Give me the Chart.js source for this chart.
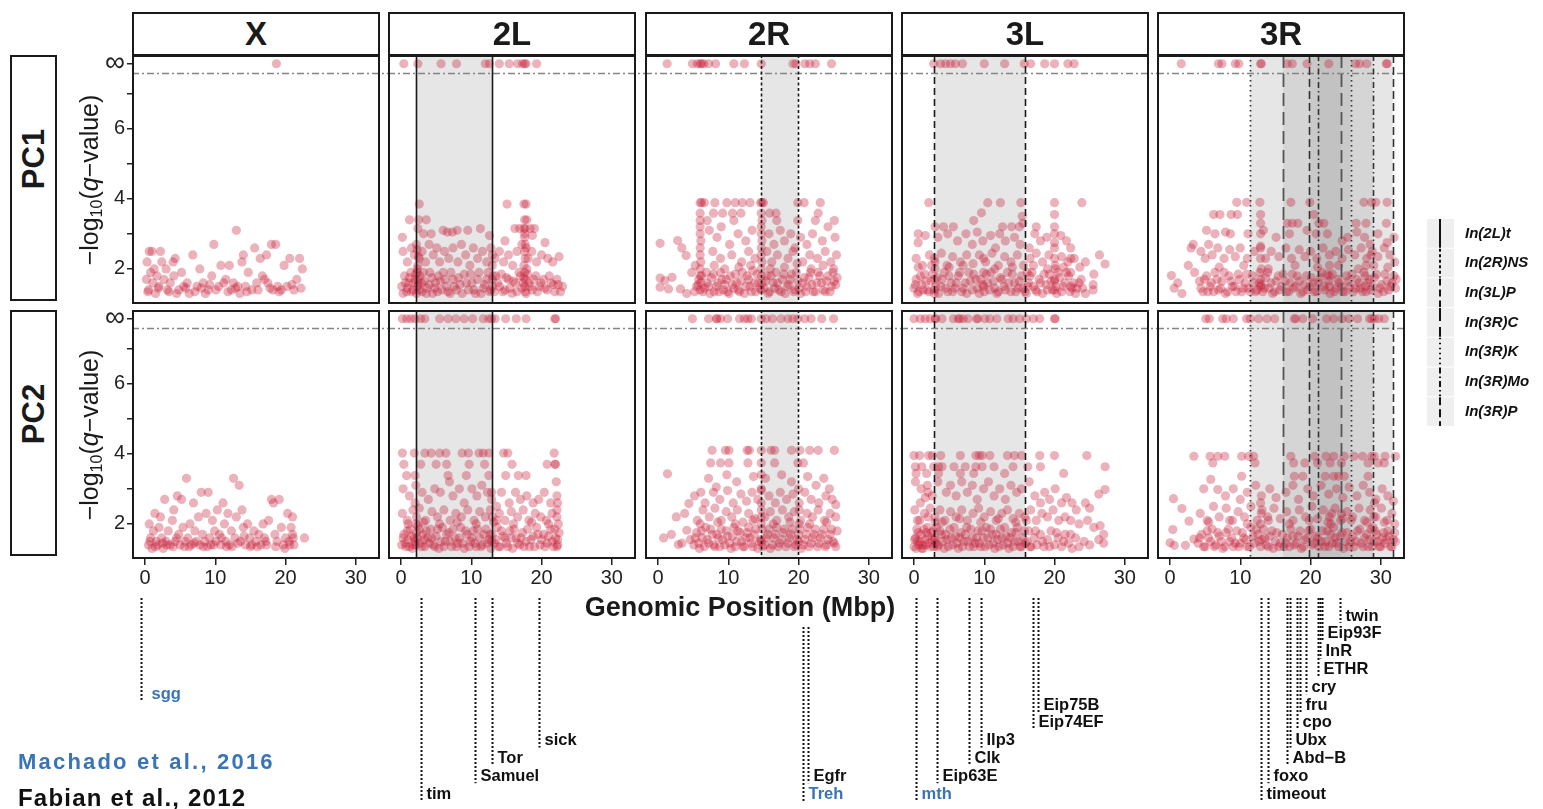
<!DOCTYPE html>
<html><head><meta charset="utf-8">
<script src="https://cdn.jsdelivr.net/npm/chart.js@4.4.1/dist/chart.umd.min.js"></script>
<style>
body{margin:0;background:#fff;width:1543px;height:809px;overflow:hidden;position:relative;font-family:"Liberation Sans",Arial,Helvetica,sans-serif;color:#1a1a1a}
canvas{position:absolute}
.strip{position:absolute;box-sizing:border-box;border:2px solid #1a1a1a;background:#fff;display:flex;align-items:center;justify-content:center;font-weight:bold;font-size:33px}
.rot{position:absolute;transform:translate(-50%,-50%) rotate(-90deg);white-space:nowrap}
.txt{position:absolute;white-space:nowrap}
</style></head><body>
<script>
// ---------------- DATA ----------------
const CHROMS = ['X','2L','2R','3L','3R'];
const ROWS = ['PC1','PC2'];
const X_TICKS = [0,10,20,30];
const Y_TICKS = [2,3,4,5,6,7,7.85];
const Y_TICK_LABELS = ['2','','4','','6','','\u221E'];
const INF = 7.85;          // position of the "infinite" (q = 0) row
const THRESHOLD = 7.58;    // dash-dot significance line

// [position (Mbp), -log10(q)]
const PC1_X = [[0.2,1.7],[0.3,2.2],[0.5,1.4],[0.6,2.5],[0.8,1.9],[1.0,2.5],[1.1,1.6],[1.3,2.0],[1.5,1.3],[1.7,1.8],[2.0,1.5],[2.2,2.5],[2.4,2.2],[2.7,1.7],[3.0,2.0],[3.2,1.4],[3.6,1.6],[4.0,2.2],[4.1,1.8],[4.3,2.3],[4.5,1.3],[4.8,1.4],[5.2,1.9],[5.5,1.5],[6.0,1.6],[6.3,1.3],[6.8,2.4],[7.4,1.5],[7.8,2.0],[8.3,1.6],[8.6,1.3],[9.0,1.4],[9.5,1.8],[9.8,2.7],[10.1,1.4],[10.5,1.5],[10.8,2.1],[11.2,1.6],[11.5,1.7],[12.0,2.1],[12.3,1.4],[12.6,1.6],[13.0,3.1],[13.2,1.5],[13.5,1.3],[13.8,2.2],[14.0,2.4],[14.3,1.5],[14.7,1.9],[15.2,1.4],[15.6,2.6],[15.9,1.6],[16.4,2.3],[16.7,1.8],[17.0,1.7],[17.3,2.4],[17.5,1.6],[18.0,2.7],[18.2,1.4],[18.6,2.7],[18.9,1.5],[19.4,1.4],[19.8,2.1],[20.2,1.5],[20.6,2.3],[21.2,1.4],[21.6,1.7],[22.0,2.3],[22.4,2.0],[18.7,7.85],
[0.4,1.35],[1.9,1.45],[3.4,1.35],[5.8,1.45],[7.1,1.35],[8.0,1.45],[9.2,1.55],[11.8,1.35],[12.9,1.45],[14.5,1.35],[16.1,1.4],[17.8,1.45],[19.1,1.35],[20.9,1.55],[22.2,1.45]];

const PC1_2L = [[0.4,7.85],[2.4,7.85],[5.7,7.85],[7.9,7.85],[12.0,7.85],[12.6,7.85],[14.0,7.85],[15.4,7.85],[16.6,7.85],[17.3,7.85],[17.6,7.85],[17.8,7.85],[19.3,7.85],
[2.6,3.85],[17.5,3.85],[17.8,3.85],[15.1,3.85],[1.2,3.4],[2.5,3.4],[3.6,3.4],[17.6,3.4],[17.9,3.4],[0.2,2.9],[2.4,3.15],[3.2,3.0],[4.3,3.0],[6.0,3.1],[6.6,3.05],[7.3,3.05],[8.0,3.1],[9.5,3.1],[11.3,3.15],[12.6,2.95],[14.8,2.8],[16.2,3.15],[16.9,3.15],[17.7,3.15],[18.4,3.15],[19.0,3.15],[18.7,2.95],[20.5,2.75],
[0.3,2.5],[0.9,2.2],[1.5,2.6],[1.9,2.4],[2.2,2.7],[2.6,2.3],[3.0,2.5],[3.5,2.2],[4.0,2.7],[4.6,2.4],[5.1,2.6],[5.5,2.2],[6.2,2.5],[6.8,2.3],[7.4,2.6],[8.1,2.2],[8.6,2.7],[9.2,2.4],[9.8,2.1],[10.3,2.6],[10.9,2.3],[11.6,2.5],[12.2,2.2],[12.8,2.6],[13.4,2.3],[14.0,2.5],[14.6,2.2],[15.3,2.4],[15.9,2.1],[16.5,2.5],[17.2,2.7],[17.6,2.9],[17.8,2.6],[18.1,2.3],[18.6,2.5],[19.3,2.2],[20.0,2.4],[20.9,2.3],[21.6,2.2],[22.5,2.35],
[0.1,1.5],[0.5,1.8],[0.8,1.35],[1.1,1.6],[1.4,1.9],[1.7,1.4],[2.0,1.7],[2.2,1.3],[2.3,2.0],[2.5,1.55],[2.7,1.8],[3.0,1.35],[3.3,1.65],[3.7,1.45],[4.1,1.9],[4.5,1.3],[4.9,1.6],[5.3,1.8],[5.8,1.4],[6.3,1.7],[6.7,1.35],[7.1,1.9],[7.6,1.5],[8.2,1.75],[8.7,1.3],[9.3,1.6],[9.9,1.85],[10.4,1.4],[10.9,1.7],[11.4,1.3],[11.9,1.55],[12.4,1.9],[12.8,1.4],[13.0,1.7],[13.3,1.35],[13.8,1.6],[14.3,1.85],[14.8,1.4],[15.3,1.7],[15.8,1.3],[16.3,1.6],[16.8,1.9],[17.2,1.45],[17.5,1.75],[17.7,1.35],[17.9,2.0],[18.2,1.6],[18.7,1.4],[19.2,1.8],[19.7,1.5],[20.3,1.7],[20.8,1.4],[21.4,1.6],[21.9,1.35],[22.4,1.55],[23.0,1.5],
[2.3,1.5],[2.4,1.7],[2.3,1.9],[2.4,2.1],[2.5,2.35],[2.3,2.55],[17.6,1.5],[17.7,1.7],[17.6,1.9],[17.5,2.1],[17.7,2.3],[17.6,2.5],[17.7,2.7],[17.6,3.0],[17.5,3.15],[13.0,1.5],[13.1,1.8],[13.0,2.1],[13.0,2.4],
[0.3,1.3],[0.6,1.6],[0.9,1.45],[1.2,1.75],[1.5,1.35],[1.8,1.6],[2.1,1.85],[2.6,1.4],[2.9,1.6],[3.2,1.9],[3.6,1.3],[4.0,1.55],[4.4,1.75],[4.8,1.45],[5.2,1.35],[5.6,1.65],[6.0,1.9],[6.5,1.5],[7.0,1.3],[7.4,1.7],[7.9,1.4],[8.4,1.55],[9.0,1.85],[9.6,1.4],[10.1,1.6],[10.6,1.3],[11.1,1.9],[11.7,1.45],[12.2,1.7],[12.6,1.35],[13.5,1.8],[14.0,1.5],[14.5,1.35],[15.0,1.75],[15.5,1.45],[16.0,1.65],[16.5,1.35],[17.0,1.8],[17.4,1.6],[17.8,1.3],[18.0,1.85],[18.4,1.5],[18.9,1.7],[19.4,1.35],[19.9,1.6],[20.5,1.45],[21.1,1.8],[21.7,1.55],[22.2,1.7],[22.7,1.35]];

const PC1_2R = [[1.3,7.85],[4.9,7.85],[5.6,7.85],[6.0,7.85],[6.2,7.85],[6.5,7.85],[7.2,7.85],[8.2,7.85],[10.8,7.85],[12.3,7.85],[14.7,7.85],[19.2,7.85],[19.6,7.85],[20.9,7.85],[21.6,7.85],[22.4,7.85],[24.7,7.85],
[6.0,3.89],[6.2,3.89],[6.6,3.89],[8.1,3.89],[9.8,3.89],[11.0,3.89],[12.0,3.89],[13.1,3.89],[14.6,3.89],[14.8,3.89],[15.0,3.89],[19.9,3.89],[20.8,3.89],[23.1,3.89],
[6.0,3.59],[7.9,3.59],[9.2,3.59],[10.6,3.59],[11.8,3.59],[14.7,3.59],[15.9,3.59],[16.8,3.59],[22.8,3.59],
[6.0,3.38],[7.0,3.38],[10.8,3.38],[14.8,3.38],[16.9,3.38],[19.9,3.38],[22.4,3.38],[25.1,3.38],
[6.0,3.2],[6.0,3.0],[6.1,2.8],[6.0,2.6],[6.0,2.4],[6.1,2.2],[6.0,2.0],[6.0,1.8],[6.1,1.6],[6.0,1.4],
[14.7,3.2],[14.7,3.0],[14.8,2.8],[14.7,2.6],[14.7,2.4],[14.8,2.2],[14.7,2.0],[14.7,1.8],[14.8,1.6],[14.7,1.4],
[7.3,3.1],[8.4,2.9],[9.0,3.2],[10.2,2.7],[11.4,3.0],[12.5,2.8],[13.4,3.1],[15.8,3.0],[16.5,2.7],[17.4,3.1],[18.0,2.8],[18.9,3.0],[19.5,2.6],[20.3,2.9],[21.2,2.7],[22.0,3.0],[23.4,2.8],[24.2,3.2],[25.2,2.9],[7.8,2.5],[8.9,2.3],[10.5,2.4],[11.9,2.2],[12.9,2.5],[13.8,2.3],[15.5,2.5],[16.2,2.2],[17.0,2.4],[18.5,2.3],[19.2,2.5],[20.6,2.2],[21.6,2.4],[22.7,2.3],[23.8,2.5],[24.6,2.2],[25.4,2.4],
[0.3,2.73],[2.8,2.81],[3.4,2.6],[4.0,2.38],[0.3,1.74],[1.0,1.67],[2.0,1.76],[0.3,1.48],[1.5,1.43],[3.2,1.43],[4.1,1.3],[4.8,1.9],[5.3,2.1],[5.5,1.5],
[5.8,1.7],[6.4,1.35],[6.9,1.9],[7.2,1.5],[7.6,1.75],[8.0,1.35],[8.5,1.6],[8.9,1.9],[9.3,1.4],[9.7,1.7],[10.1,1.3],[10.6,1.55],[11.0,1.85],[11.4,1.4],[11.8,1.65],[12.3,1.3],[12.7,1.8],[13.1,1.5],[13.5,1.95],[13.9,1.35],[14.3,1.6],[15.1,1.45],[15.5,1.8],[15.9,1.35],[16.4,1.6],[16.8,1.9],[17.2,1.4],[17.7,1.7],[18.1,1.3],[18.6,1.55],[19.0,1.85],[19.5,1.4],[19.9,1.65],[20.3,1.3],[20.8,1.75],[21.2,1.5],[21.7,1.9],[22.1,1.35],[22.6,1.6],[23.0,1.8],[23.5,1.4],[24.0,1.65],[24.5,1.35],[24.9,1.9],[25.3,1.55],[25.5,1.75],
[5.2,1.35],[5.7,1.55],[6.2,1.8],[6.6,1.45],[7.0,1.6],[7.4,1.3],[7.9,1.85],[8.3,1.5],[8.7,1.35],[9.1,1.7],[9.5,1.55],[9.9,1.35],[10.3,1.8],[10.8,1.45],[11.2,1.6],[11.6,1.35],[12.0,1.9],[12.5,1.5],[12.9,1.7],[13.3,1.35],[13.7,1.6],[14.1,1.85],[14.5,1.45],[15.3,1.65],[15.7,1.3],[16.1,1.8],[16.6,1.45],[17.0,1.6],[17.5,1.35],[17.9,1.85],[18.4,1.5],[18.8,1.7],[19.3,1.35],[19.7,1.9],[20.1,1.45],[20.6,1.6],[21.0,1.35],[21.5,1.75],[21.9,1.55],[22.4,1.35],[22.8,1.9],[23.3,1.6],[23.8,1.35],[24.2,1.8],[24.7,1.5],[25.1,1.65],[8.0,2.1],[9.5,2.0],[11.5,2.05],[13.2,2.1],[16.0,2.0],[18.0,2.05],[19.8,2.15],[21.8,2.0],[23.5,2.1],[25.0,2.0]];

const PC1_3L = [[2.8,7.85],[3.8,7.85],[4.5,7.85],[5.2,7.85],[5.9,7.85],[6.9,7.85],[10.0,7.85],[12.9,7.85],[15.7,7.85],[16.6,7.85],[18.6,7.85],[20.0,7.85],[21.9,7.85],[22.8,7.85],
[2.1,3.89],[10.5,3.89],[12.3,3.89],[15.2,3.89],[20.0,3.89],[23.9,3.89],[9.6,3.6],[20.0,3.55],[15.4,3.5],[8.5,3.38],[15.5,3.3],
[3.0,3.2],[4.2,3.2],[5.6,3.2],[12.6,3.2],[13.9,3.2],[17.4,3.2],[15.0,3.2],[20.0,3.2],
[0.6,3.0],[0.6,2.75],[1.6,2.95],[3.4,2.9],[4.8,3.0],[6.2,2.8],[7.4,3.0],[8.3,2.7],[9.0,3.05],[9.8,2.8],[10.9,2.95],[11.6,2.6],[12.2,3.0],[13.0,2.8],[14.3,2.9],[15.1,2.7],[16.4,2.6],[17.2,3.0],[18.0,2.8],[18.9,2.9],[20.0,2.75],[20.9,2.95],[21.7,2.8],[22.3,2.6],[26.4,2.4],[27.2,2.14],
[0.3,2.3],[1.2,2.1],[2.2,2.4],[3.0,2.2],[3.9,2.45],[4.7,2.1],[5.5,2.35],[6.6,2.2],[7.5,2.4],[8.4,2.15],[9.3,2.4],[10.2,2.2],[11.1,2.45],[12.0,2.1],[12.9,2.35],[13.8,2.2],[14.7,2.4],[15.6,2.1],[16.5,2.3],[17.4,2.45],[18.3,2.2],[19.2,2.4],[20.1,2.1],[21.0,2.35],[21.9,2.2],[22.8,2.3],[23.6,2.05],[24.4,2.2],
[0.0,1.45],[0.3,1.7],[0.7,1.35],[1.1,1.55],[1.5,1.85],[1.9,1.4],[2.4,1.65],[2.9,1.3],[3.3,1.75],[3.8,1.5],[4.3,1.9],[4.8,1.35],[5.3,1.6],[5.8,1.45],[6.3,1.8],[6.8,1.35],[7.3,1.6],[7.8,1.9],[8.3,1.4],[8.8,1.7],[9.3,1.3],[9.8,1.55],[10.3,1.85],[10.8,1.4],[11.3,1.65],[11.8,1.3],[12.3,1.75],[12.8,1.5],[13.3,1.9],[13.8,1.35],[14.3,1.6],[14.8,1.45],[15.3,1.8],[15.8,1.35],[16.3,1.6],[16.8,1.9],[17.3,1.4],[17.8,1.7],[18.3,1.3],[18.8,1.55],[19.3,1.85],[19.7,1.4],[20.0,1.65],[20.3,1.3],[20.7,1.75],[21.2,1.5],[21.7,1.9],[22.2,1.35],[22.7,1.6],[23.2,1.45],[23.8,1.7],[24.4,1.3],[25.5,1.55],[25.5,1.4],[25.6,1.85],
[2.9,1.4],[2.9,1.7],[3.0,2.0],[2.9,2.3],[20.0,1.4],[20.0,1.7],[20.1,2.0],[20.0,2.3],[20.0,2.6],[20.0,3.0],[16.2,1.5],[16.1,1.9],[9.9,1.5],[9.9,1.9],[9.9,2.3],[22.3,1.5],[22.3,1.9],[22.3,2.3],
[0.2,1.55],[0.5,1.3],[0.9,1.8],[1.3,1.4],[1.7,1.65],[2.1,1.35],[2.6,1.85],[3.1,1.5],[3.5,1.3],[4.0,1.7],[4.5,1.45],[5.0,1.8],[5.5,1.35],[6.0,1.6],[6.5,1.9],[7.0,1.45],[7.5,1.3],[8.0,1.65],[8.5,1.85],[9.0,1.45],[9.5,1.7],[10.0,1.35],[10.5,1.6],[11.0,1.9],[11.5,1.45],[12.0,1.35],[12.5,1.7],[13.0,1.4],[13.5,1.6],[14.0,1.85],[14.5,1.35],[15.0,1.65],[15.5,1.45],[16.0,1.3],[16.5,1.8],[17.0,1.5],[17.5,1.35],[18.0,1.6],[18.5,1.85],[19.0,1.4],[19.5,1.65],[20.2,1.5],[20.5,1.9],[21.0,1.35],[21.5,1.6],[22.0,1.8],[22.5,1.45],[23.0,1.3],[23.5,1.6],[24.0,1.45],[0.6,2.05],[2.5,2.1],[5.0,2.05],[7.0,2.1],[11.5,2.0],[14.0,2.05],[17.0,2.1],[19.0,2.0],[21.3,2.05]];

const PC1_3R = [[1.6,7.85],[6.9,7.85],[7.4,7.85],[9.3,7.85],[9.8,7.85],[12.9,7.85],[13.0,7.85],[16.7,7.85],[17.4,7.85],[19.5,7.85],[22.6,7.85],[26.4,7.85],[27.0,7.85],[28.0,7.85],[30.8,7.85],[30.9,7.85],
[9.5,3.9],[10.9,3.9],[12.8,3.9],[17.2,3.9],[19.9,3.9],[27.6,3.9],[28.7,3.9],[29.3,3.9],[30.9,3.9],
[6.2,3.55],[7.1,3.55],[8.7,3.55],[9.6,3.55],[12.9,3.55],[20.5,3.55],
[12.9,3.3],[16.7,3.3],[17.4,3.3],[18.2,3.3],[21.2,3.3],[21.9,3.3],[26.5,3.3],[27.9,3.3],[30.8,3.3],
[5.2,3.1],[6.4,3.0],[7.9,3.05],[8.6,3.0],[11.1,3.0],[13.3,3.1],[15.1,2.9],[17.0,3.0],[19.5,3.1],[20.8,3.0],[22.4,3.0],[24.5,2.8],[25.3,2.9],[26.6,3.05],[27.7,2.9],[29.6,3.0],[30.9,2.75],[31.9,2.9],[3.3,2.7],[5.5,2.7],
[3.0,2.6],[4.4,2.5],[5.0,2.3],[6.0,2.4],[6.8,2.6],[7.7,2.3],[8.5,2.55],[9.3,2.35],[10.0,2.6],[11.0,2.3],[12.0,2.5],[12.9,2.65],[13.6,2.3],[14.4,2.5],[15.5,2.35],[16.5,2.6],[17.3,2.3],[18.4,2.55],[19.2,2.35],[20.0,2.5],[20.9,2.3],[21.8,2.6],[22.7,2.4],[23.6,2.5],[24.5,2.3],[25.4,2.55],[26.3,2.4],[27.2,2.6],[28.0,2.3],[28.8,2.5],[29.6,2.35],[30.5,2.6],[31.3,2.4],[32.0,2.2],
[0.2,1.81],[1.1,1.6],[1.7,1.3],[0.6,1.45],[2.6,2.1],[3.5,1.9],
[4.4,1.45],[4.9,1.7],[5.4,1.35],[5.9,1.6],[6.4,1.9],[6.9,1.4],[7.4,1.65],[7.9,1.3],[8.4,1.8],[8.9,1.5],[9.4,1.35],[9.9,1.7],[10.4,1.45],[10.9,1.85],[11.4,1.35],[11.9,1.6],[12.4,1.4],[12.8,1.9],[13.0,1.55],[13.2,1.35],[13.6,1.75],[14.1,1.45],[14.6,1.3],[15.1,1.65],[15.6,1.4],[16.1,1.85],[16.6,1.35],[17.1,1.6],[17.6,1.45],[18.1,1.8],[18.6,1.3],[19.1,1.55],[19.6,1.4],[20.1,1.75],[20.6,1.35],[21.1,1.6],[21.6,1.9],[22.1,1.4],[22.6,1.65],[22.8,1.3],[23.1,1.85],[23.6,1.45],[24.1,1.6],[24.6,1.35],[25.1,1.8],[25.6,1.5],[26.1,1.35],[26.6,1.7],[27.1,1.45],[27.6,1.9],[27.9,1.35],[28.1,1.6],[28.6,1.4],[29.1,1.75],[29.6,1.3],[30.1,1.55],[30.6,1.85],[31.1,1.4],[31.6,1.6],[32.1,1.45],[32.2,1.7],
[12.9,1.5],[12.9,1.7],[13.0,2.0],[12.9,2.3],[12.9,2.6],[12.9,3.0],[22.7,1.5],[22.7,1.8],[22.7,2.1],[27.8,1.5],[27.8,1.8],[27.9,2.1],[28.6,2.4],[28.5,2.7],
[4.2,1.65],[4.7,1.35],[5.2,1.8],[5.7,1.5],[6.2,1.35],[6.7,1.7],[7.2,1.45],[7.7,1.9],[8.2,1.35],[8.7,1.65],[9.2,1.5],[9.7,1.85],[10.2,1.35],[10.7,1.6],[11.2,1.45],[11.7,1.8],[12.2,1.35],[12.7,1.6],[13.4,1.45],[13.9,1.9],[14.4,1.6],[14.9,1.35],[15.4,1.8],[15.9,1.5],[16.4,1.65],[16.9,1.35],[17.4,1.85],[17.9,1.5],[18.4,1.65],[18.9,1.35],[19.4,1.8],[19.9,1.5],[20.4,1.6],[20.9,1.35],[21.4,1.75],[21.9,1.5],[22.4,1.85],[23.4,1.35],[23.9,1.7],[24.4,1.5],[24.9,1.35],[25.4,1.65],[25.9,1.85],[26.4,1.45],[26.9,1.6],[27.4,1.35],[28.4,1.7],[28.9,1.5],[29.4,1.85],[29.9,1.45],[30.4,1.35],[30.9,1.65],[31.4,1.5],[31.9,1.8],[7.0,2.05],[10.5,2.1],[14.0,2.0],[17.8,2.1],[21.0,2.05],[24.0,2.1],[26.8,2.0],[29.0,2.1],[31.0,2.05]];

const PC2_X = [[0.5,1.4],[0.6,2.0],[0.8,1.6],[1.0,1.3],[1.2,1.8],[1.4,2.3],[1.6,1.5],[1.8,1.4],[2.0,1.9],[2.2,2.2],[2.4,1.6],[2.6,1.3],[2.8,2.7],[3.0,1.5],[3.3,1.8],[3.6,1.4],[3.9,2.1],[4.1,2.4],[4.3,1.5],[4.6,2.8],[4.8,1.7],[5.0,1.4],[5.2,2.7],[5.4,1.9],[5.7,1.5],[5.9,3.3],[6.1,1.6],[6.4,2.0],[6.6,1.4],[6.9,2.6],[7.1,1.8],[7.3,1.5],[7.6,2.2],[7.8,1.4],[8.0,2.9],[8.2,1.7],[8.5,1.5],[8.7,2.3],[9.0,2.9],[9.2,1.6],[9.4,1.4],[9.6,2.1],[9.9,1.8],[10.1,1.5],[10.3,2.4],[10.6,1.7],[10.8,1.4],[11.1,2.6],[11.3,2.0],[11.5,1.5],[11.8,2.3],[12.0,1.4],[12.3,1.8],[12.6,3.3],[12.8,1.6],[13.0,2.2],[13.4,3.1],[13.6,1.5],[13.8,2.4],[14.0,1.9],[14.3,1.4],[14.6,2.0],[14.9,1.6],[15.2,1.4],[15.5,1.8],[15.8,1.5],[16.2,1.7],[16.5,1.4],[16.8,2.0],[17.0,1.6],[17.3,1.4],[17.6,2.1],[18.0,2.7],[18.3,2.6],[18.5,1.7],[18.8,1.5],[19.1,2.7],[19.4,1.9],[19.7,1.4],[20.0,1.6],[20.3,2.3],[20.5,1.5],[20.8,1.9],[21.0,1.7],[21.2,1.4],[21.0,2.2],[22.7,1.6],[2.5,1.45],[4.0,1.35],[6.3,1.35],[8.9,1.35],[10.9,1.6],[12.4,1.35],[14.1,1.65],[16.0,1.35],[19.9,1.3],
[0.7,1.5],[1.5,1.35],[3.1,1.4],[4.5,1.6],[5.6,1.35],[7.0,1.45],[8.3,1.35],[9.8,1.4],[11.6,1.35],[13.2,1.45],[15.0,1.35],[17.2,1.5],[18.6,1.35],[20.6,1.4],[21.1,1.6]];

const PC2_2L = [[0.2,7.85],[0.8,7.85],[1.4,7.85],[2.0,7.85],[2.8,7.85],[3.4,7.85],[5.5,7.85],[6.7,7.85],[7.8,7.85],[9.0,7.85],[10.2,7.85],[11.7,7.85],[12.5,7.85],[12.9,7.85],[13.4,7.85],[14.9,7.85],[16.4,7.85],[17.8,7.85],[21.9,7.85],[22.0,7.85],
[0.2,4.02],[1.9,4.02],[3.4,4.02],[4.3,4.02],[5.5,4.02],[6.4,4.02],[8.7,4.02],[9.6,4.02],[11.1,4.02],[11.7,4.02],[12.5,4.02],[14.6,4.02],[15.2,4.02],[21.8,4.02],
[0.4,3.7],[2.8,3.7],[5.0,3.7],[6.5,3.7],[9.7,3.7],[11.9,3.7],[15.8,3.7],[20.8,3.7],[21.9,3.7],[22.0,3.7],
[0.8,3.38],[2.0,3.38],[6.7,3.38],[9.3,3.38],[12.5,3.38],[14.9,3.38],[16.7,3.38],[17.8,3.38],
[0.3,3.0],[1.2,2.8],[2.1,3.1],[3.0,2.9],[3.9,2.7],[4.8,3.0],[5.6,2.9],[6.9,3.2],[7.4,2.8],[8.3,3.0],[9.0,2.6],[10.1,3.0],[10.8,2.8],[11.5,3.1],[12.3,2.9],[12.9,2.7],[13.6,2.5],[14.3,2.9],[15.4,2.6],[16.3,2.9],[17.0,2.7],[17.9,2.8],[18.8,2.6],[19.6,2.7],[20.4,2.9],[21.3,2.6],[22.1,3.2],[22.2,2.8],
[0.2,2.3],[0.9,2.1],[1.7,2.4],[2.2,2.2],[2.6,2.45],[3.5,2.1],[4.4,2.35],[5.2,2.2],[6.1,2.4],[7.0,2.1],[7.8,2.3],[8.6,2.2],[9.5,2.4],[10.4,2.1],[11.2,2.35],[12.0,2.2],[12.7,2.4],[13.2,2.05],[14.0,2.3],[14.8,2.1],[15.7,2.35],[16.6,2.2],[17.4,2.4],[18.2,2.1],[19.1,2.3],[19.9,2.2],[20.7,2.1],[21.5,2.3],[22.2,2.4],[22.4,2.0],
[0.1,1.4],[0.4,1.7],[0.7,1.35],[1.0,1.55],[1.3,1.85],[1.6,1.3],[1.9,1.6],[2.1,1.4],[2.2,1.75],[2.4,1.95],[2.7,1.45],[3.1,1.7],[3.4,1.35],[3.8,1.6],[4.2,1.85],[4.6,1.4],[5.0,1.65],[5.4,1.3],[5.9,1.9],[6.3,1.5],[6.8,1.75],[7.2,1.35],[7.7,1.6],[8.1,1.45],[8.5,1.9],[9.0,1.3],[9.4,1.7],[9.9,1.5],[10.3,1.8],[10.7,1.35],[11.2,1.6],[11.6,1.4],[12.1,1.85],[12.5,1.55],[12.8,1.3],[13.0,1.7],[13.3,1.45],[13.7,1.9],[14.1,1.35],[14.5,1.65],[15.0,1.45],[15.5,1.8],[15.9,1.3],[16.4,1.6],[16.9,1.4],[17.3,1.75],[17.8,1.5],[18.3,1.35],[18.8,1.65],[19.3,1.9],[19.8,1.4],[20.3,1.7],[20.8,1.45],[21.3,1.85],[21.7,1.35],[22.0,1.6],[22.3,1.4],[22.5,1.75],
[2.0,1.5],[2.1,2.0],[2.0,2.6],[12.9,1.5],[13.0,2.2],[12.9,2.9],[22.3,1.55],[22.2,2.2],[22.3,2.6],
[0.3,1.6],[0.6,1.45],[0.9,1.8],[1.2,1.35],[1.5,1.65],[1.8,1.4],[2.3,1.6],[2.6,1.85],[2.9,1.35],[3.3,1.55],[3.6,1.8],[4.0,1.45],[4.4,1.6],[4.8,1.35],[5.2,1.85],[5.7,1.5],[6.1,1.35],[6.5,1.7],[7.0,1.5],[7.4,1.85],[7.9,1.35],[8.3,1.6],[8.8,1.45],[9.2,1.8],[9.7,1.35],[10.1,1.6],[10.5,1.45],[10.9,1.85],[11.4,1.35],[11.8,1.7],[12.3,1.45],[12.7,1.7],[13.5,1.55],[13.9,1.35],[14.3,1.8],[14.8,1.6],[15.2,1.35],[15.7,1.6],[16.1,1.85],[16.6,1.45],[17.1,1.6],[17.5,1.35],[18.0,1.85],[18.5,1.55],[19.0,1.35],[19.5,1.7],[20.0,1.55],[20.5,1.35],[21.0,1.65],[21.5,1.5],[21.9,1.85],[22.2,1.35],[1.0,2.0],[3.2,2.05],[5.5,2.0],[8.0,2.05],[10.7,2.0],[13.6,2.1],[16.0,2.0],[18.6,2.05],[21.0,2.0]];

const PC2_2R = [[4.9,7.85],[7.2,7.85],[8.3,7.85],[8.4,7.85],[8.9,7.85],[9.9,7.85],[11.6,7.85],[12.3,7.85],[12.8,7.85],[13.3,7.85],[14.7,7.85],[15.4,7.85],[16.3,7.85],[17.5,7.85],[18.5,7.85],[19.2,7.85],[19.9,7.85],[20.9,7.85],[21.8,7.85],[23.3,7.85],[25.0,7.85],
[7.7,4.1],[9.6,4.1],[10.1,4.1],[12.7,4.1],[13.0,4.1],[14.7,4.1],[16.1,4.1],[16.6,4.1],[19.0,4.1],[20.2,4.1],[21.6,4.1],[22.8,4.1],[25.1,4.1],
[7.5,3.74],[8.9,3.74],[10.1,3.74],[12.8,3.74],[14.7,3.74],[16.6,3.74],[19.9,3.74],[20.7,3.74],
[1.35,3.43],[7.2,3.3],[9.8,3.4],[11.2,3.2],[13.6,3.35],[15.3,3.3],[17.6,3.4],[19.0,3.2],[21.3,3.35],[22.5,3.1],[23.6,3.3],[24.4,3.0],[8.3,3.05],
[4.4,2.58],[5.2,2.8],[6.1,2.9],[6.7,2.6],[7.9,2.9],[8.8,2.7],[9.9,2.95],[10.7,2.6],[11.8,2.85],[12.6,2.65],[13.4,2.9],[14.2,2.7],[14.7,2.95],[15.8,2.8],[16.7,2.6],[17.4,2.9],[18.3,2.7],[19.2,2.85],[20.1,2.6],[20.9,2.9],[21.8,2.7],[22.9,2.6],[23.9,2.8],[24.8,2.7],[25.3,2.55],
[2.6,2.2],[3.8,2.3],[5.6,2.1],[6.4,2.4],[7.3,2.2],[8.1,2.45],[9.0,2.1],[9.7,2.35],[10.5,2.2],[11.3,2.4],[12.1,2.05],[12.9,2.3],[13.8,2.15],[14.7,2.4],[15.2,2.2],[16.0,2.35],[16.9,2.1],[17.7,2.4],[18.6,2.2],[19.4,2.35],[20.3,2.1],[21.2,2.3],[22.0,2.2],[22.8,2.4],[23.7,2.1],[24.5,2.3],[25.3,2.2],
[0.8,1.6],[1.9,1.7],[2.9,1.41],[3.4,1.45],[4.1,1.82],[4.6,1.55],
[5.1,1.4],[5.5,1.75],[5.9,1.3],[6.3,1.6],[6.8,1.9],[7.2,1.45],[7.7,1.7],[8.1,1.35],[8.6,1.6],[9.0,1.85],[9.5,1.4],[9.9,1.65],[10.4,1.3],[10.8,1.9],[11.2,1.5],[11.7,1.75],[12.1,1.35],[12.5,1.6],[12.9,1.9],[13.3,1.45],[13.7,1.7],[14.2,1.3],[14.6,1.55],[14.8,1.85],[15.2,1.4],[15.6,1.7],[16.0,1.3],[16.5,1.6],[16.9,1.9],[17.3,1.45],[17.8,1.75],[18.2,1.35],[18.7,1.6],[19.1,1.85],[19.6,1.4],[20.0,1.7],[20.4,1.3],[20.9,1.55],[21.3,1.9],[21.8,1.45],[22.2,1.7],[22.7,1.35],[23.1,1.6],[23.6,1.85],[24.0,1.4],[24.5,1.7],[24.9,1.5],[25.3,1.35],[25.5,1.8],[14.7,2.0],[14.7,1.5],[20.0,1.5],
[14.7,2.2],[14.7,2.6],[14.7,3.0],[14.7,3.4],[20.1,2.0],[20.1,2.4],[20.0,3.0],
[5.3,1.6],[5.8,1.45],[6.2,1.8],[6.6,1.35],[7.0,1.55],[7.5,1.85],[7.9,1.4],[8.4,1.7],[8.8,1.35],[9.2,1.55],[9.7,1.8],[10.2,1.45],[10.6,1.65],[11.0,1.35],[11.4,1.8],[11.9,1.5],[12.3,1.35],[12.7,1.75],[13.1,1.6],[13.5,1.35],[13.9,1.85],[14.4,1.5],[14.9,1.35],[15.4,1.6],[15.8,1.85],[16.3,1.4],[16.7,1.7],[17.1,1.35],[17.6,1.55],[18.0,1.85],[18.5,1.45],[18.9,1.7],[19.4,1.35],[19.8,1.55],[20.2,1.85],[20.7,1.4],[21.1,1.7],[21.5,1.35],[22.0,1.6],[22.4,1.85],[22.9,1.45],[23.3,1.7],[23.8,1.35],[24.2,1.55],[24.7,1.85],[25.1,1.45],[6.0,2.0],[8.5,2.05],[11.0,2.0],[13.5,2.1],[16.4,2.0],[18.8,2.05],[21.6,2.0],[24.0,2.05]];

const PC2_3L = [[0.0,7.85],[0.9,7.85],[1.6,7.85],[2.3,7.85],[3.0,7.85],[3.1,7.85],[4.0,7.85],[5.6,7.85],[6.3,7.85],[6.5,7.85],[7.0,7.85],[7.7,7.85],[8.9,7.85],[9.1,7.85],[10.1,7.85],[10.8,7.85],[11.8,7.85],[13.4,7.85],[14.1,7.85],[15.0,7.85],[16.0,7.85],[17.0,7.85],[17.9,7.85],[20.0,7.85],[20.1,7.85],
[0.0,3.95],[0.8,3.95],[2.1,3.95],[2.6,3.95],[3.8,3.95],[6.6,3.95],[8.8,3.95],[9.3,3.95],[9.7,3.95],[10.8,3.95],[13.3,3.95],[14.3,3.95],[15.3,3.95],[17.9,3.95],[20.0,3.95],[24.6,3.95],
[0.2,3.63],[1.1,3.63],[2.8,3.63],[3.5,3.63],[4.0,3.63],[5.7,3.63],[7.3,3.63],[8.8,3.63],[9.7,3.63],[11.4,3.63],[14.1,3.63],[16.2,3.63],[18.0,3.63],[27.2,3.63],
[0.3,3.44],[1.8,3.44],[3.5,3.44],[6.6,3.44],[8.5,3.44],[12.9,3.44],[21.3,3.44],
[0.2,3.2],[1.0,3.0],[1.9,3.1],[2.6,2.8],[3.4,3.2],[4.6,2.9],[5.2,3.1],[6.0,2.8],[6.8,3.2],[7.6,2.9],[8.3,3.1],[9.0,2.7],[9.9,3.0],[10.6,3.2],[11.4,2.8],[12.2,3.0],[13.0,2.7],[13.8,3.1],[14.6,2.9],[15.3,3.0],[16.4,3.2],[17.2,2.8],[18.0,2.6],[18.6,2.9],[19.3,2.7],[20.1,3.0],[21.0,2.6],[21.7,2.75],[22.5,2.6],[23.1,2.4],[25.0,2.45],[27.2,2.98],[26.3,2.85],[24.4,2.6],
[0.1,2.4],[0.8,2.1],[1.5,2.3],[2.3,2.45],[3.0,2.2],[3.7,2.4],[4.4,2.1],[5.2,2.35],[6.0,2.2],[6.8,2.4],[7.6,2.1],[8.4,2.3],[9.2,2.45],[10.0,2.2],[10.9,2.35],[11.7,2.1],[12.5,2.3],[13.3,2.4],[14.1,2.15],[15.0,2.3],[15.8,2.2],[16.6,2.4],[17.4,2.1],[18.2,2.3],[19.0,2.2],[19.8,2.4],[20.6,2.1],[21.5,2.2],[22.3,2.1],[23.5,2.0],[24.7,2.1],[25.6,1.9],[26.5,1.95],[27.0,1.7],
[0.0,1.35],[0.2,1.6],[0.4,1.85],[0.7,1.4],[1.0,1.7],[1.3,1.3],[1.6,1.55],[1.9,1.9],[2.2,1.45],[2.5,1.75],[2.8,1.35],[3.0,1.6],[3.2,1.9],[3.5,1.4],[3.9,1.7],[4.3,1.3],[4.7,1.55],[5.1,1.85],[5.5,1.4],[5.9,1.65],[6.3,1.3],[6.7,1.75],[7.1,1.5],[7.5,1.9],[7.9,1.35],[8.3,1.6],[8.7,1.45],[9.1,1.8],[9.5,1.35],[9.9,1.6],[10.3,1.9],[10.7,1.4],[11.1,1.7],[11.5,1.3],[11.9,1.55],[12.3,1.85],[12.7,1.4],[13.1,1.65],[13.5,1.3],[13.9,1.75],[14.3,1.5],[14.7,1.9],[15.1,1.35],[15.5,1.6],[15.9,1.45],[16.3,1.8],[16.7,1.35],[17.1,1.6],[17.5,1.4],[18.0,1.7],[18.5,1.35],[19.0,1.55],[19.5,1.8],[20.0,1.4],[20.5,1.6],[21.0,1.35],[21.5,1.7],[22.0,1.45],[22.5,1.3],[23.0,1.6],[23.5,1.35],[24.2,1.5],[25.0,1.4],[26.3,1.55],[27.0,1.45],
[0.5,1.5],[1.2,1.4],[1.8,1.75],[2.6,1.55],[3.0,2.05],[3.1,1.45],[0.9,2.6],[1.6,2.75],[2.0,2.9],
[0.1,1.55],[0.3,1.3],[0.6,1.75],[0.9,1.5],[1.1,1.3],[1.4,1.85],[1.7,1.4],[2.0,1.65],[2.4,1.35],[2.7,1.8],[2.9,1.55],[3.3,1.35],[3.7,1.8],[4.1,1.5],[4.5,1.7],[4.9,1.35],[5.3,1.6],[5.7,1.9],[6.1,1.45],[6.5,1.6],[6.9,1.35],[7.3,1.7],[7.7,1.5],[8.1,1.85],[8.5,1.35],[8.9,1.6],[9.3,1.45],[9.7,1.8],[10.1,1.35],[10.5,1.6],[10.9,1.85],[11.3,1.45],[11.7,1.7],[12.1,1.35],[12.5,1.6],[12.9,1.9],[13.3,1.45],[13.7,1.6],[14.1,1.35],[14.5,1.75],[14.9,1.5],[15.3,1.35],[15.7,1.8],[16.1,1.5],[16.5,1.35],[17.3,1.8],[18.3,1.5],[19.3,1.35],[20.3,1.75],[21.3,1.5],[22.3,1.7],[0.5,2.1],[2.0,2.2],[4.0,2.05],[6.5,2.15],[9.5,2.05],[12.0,2.15],[14.5,2.05],[16.0,2.1]];

const PC2_3R = [[5.1,7.85],[5.6,7.85],[7.5,7.85],[8.0,7.85],[9.0,7.85],[10.9,7.85],[11.4,7.85],[12.6,7.85],[13.8,7.85],[14.9,7.85],[17.7,7.85],[17.9,7.85],[18.9,7.85],[20.3,7.85],[22.3,7.85],[23.3,7.85],[24.5,7.85],[25.5,7.85],[26.7,7.85],[28.4,7.85],[28.7,7.85],[29.1,7.85],[29.7,7.85],[30.5,7.85],
[3.4,3.93],[5.7,3.93],[6.8,3.93],[7.8,3.93],[10.2,3.93],[11.2,3.93],[11.9,3.93],[17.2,3.93],[20.6,3.93],[22.2,3.93],[23.3,3.93],[24.8,3.93],[26.2,3.93],[27.4,3.93],[28.7,3.93],[29.1,3.93],[30.6,3.93],[32.1,3.93],
[6.1,3.74],[12.1,3.74],[17.6,3.74],[19.2,3.74],[21.0,3.74],[22.8,3.74],[24.4,3.74],[28.2,3.74],[29.6,3.74],[30.5,3.74],
[10.2,3.36],[17.7,3.36],[18.9,3.36],[22.1,3.36],[23.3,3.36],[24.0,3.36],[24.8,3.36],[28.2,3.36],
[0.5,2.72],[1.7,2.44],[2.7,2.08],[0.4,1.84],[0.0,1.46],[0.6,1.39],[2.2,1.39],[3.4,1.57],
[4.8,3.0],[5.8,3.27],[6.8,2.98],[7.9,2.8],[9.0,3.0],[10.0,2.7],[11.0,2.9],[12.2,3.1],[13.0,2.8],[14.2,3.0],[15.1,2.75],[16.5,2.9],[17.5,3.1],[18.3,2.7],[19.6,3.0],[20.4,2.8],[21.5,3.1],[22.6,2.85],[23.7,3.0],[24.6,2.75],[25.5,3.05],[26.6,2.8],[27.5,3.1],[28.4,2.9],[29.3,2.7],[30.2,3.0],[31.0,2.8],[31.8,2.65],[24.6,2.15],
[4.3,2.3],[5.3,2.1],[6.2,2.5],[7.0,2.2],[8.0,2.45],[8.9,2.1],[9.7,2.35],[10.6,2.2],[11.5,2.5],[12.4,2.1],[13.1,2.4],[13.9,2.2],[14.8,2.45],[15.7,2.15],[16.6,2.35],[17.5,2.1],[18.4,2.4],[19.3,2.2],[20.2,2.5],[21.0,2.15],[21.8,2.4],[22.7,2.2],[23.5,2.45],[24.3,2.1],[25.2,2.35],[26.0,2.2],[26.9,2.45],[27.7,2.1],[28.5,2.4],[29.3,2.2],[30.1,2.45],[30.9,2.1],[31.6,2.3],[32.0,2.0],
[4.0,1.45],[4.5,1.7],[5.0,1.35],[5.5,1.6],[6.0,1.85],[6.5,1.4],[7.0,1.65],[7.5,1.3],[8.0,1.75],[8.5,1.5],[9.0,1.35],[9.5,1.8],[10.0,1.45],[10.5,1.6],[11.0,1.35],[11.5,1.9],[12.0,1.45],[12.5,1.7],[12.9,1.35],[13.1,1.55],[13.3,1.85],[13.7,1.4],[14.2,1.65],[14.7,1.3],[15.2,1.75],[15.7,1.45],[16.2,1.35],[16.7,1.6],[17.2,1.85],[17.7,1.4],[18.2,1.65],[18.7,1.3],[19.2,1.55],[19.7,1.8],[20.2,1.4],[20.7,1.65],[21.2,1.35],[21.7,1.8],[22.2,1.5],[22.6,1.35],[22.9,1.7],[23.3,1.9],[23.7,1.45],[24.2,1.65],[24.7,1.3],[25.2,1.75],[25.7,1.5],[26.2,1.35],[26.7,1.8],[27.2,1.45],[27.7,1.6],[28.2,1.35],[28.6,1.85],[29.0,1.5],[29.4,1.7],[29.8,1.35],[30.2,1.6],[30.6,1.45],[31.0,1.8],[31.4,1.35],[31.8,1.55],[32.1,1.5],
[12.9,2.0],[13.0,2.3],[12.9,2.6],[22.9,2.0],[23.0,2.3],[28.9,1.9],[29.0,2.2],[29.1,2.6],[24.4,2.29],
[4.2,1.6],[4.8,1.35],[5.3,1.8],[5.8,1.5],[6.3,1.35],[6.8,1.75],[7.3,1.5],[7.8,1.35],[8.3,1.85],[8.8,1.6],[9.3,1.45],[9.8,1.35],[10.3,1.75],[10.8,1.55],[11.3,1.35],[11.8,1.65],[12.3,1.85],[12.7,1.5],[13.5,1.6],[14.0,1.35],[14.5,1.8],[15.0,1.5],[15.5,1.35],[16.0,1.7],[16.5,1.45],[17.0,1.35],[17.5,1.65],[18.0,1.45],[18.5,1.8],[19.0,1.35],[19.5,1.6],[20.0,1.85],[20.5,1.45],[21.0,1.6],[21.5,1.5],[22.0,1.35],[22.4,1.8],[23.1,1.45],[23.5,1.6],[24.0,1.35],[24.5,1.75],[25.0,1.5],[25.5,1.35],[26.0,1.65],[26.5,1.5],[27.0,1.85],[27.5,1.35],[28.0,1.7],[28.4,1.55],[28.8,1.35],[29.2,1.8],[29.6,1.5],[30.0,1.35],[30.4,1.75],[30.8,1.55],[31.2,1.65],[31.6,1.35],[32.0,1.75],[5.5,2.05],[8.5,2.1],[11.0,2.0],[14.0,2.1],[17.0,2.0],[19.8,2.1],[22.5,2.05],[25.8,2.1],[28.0,2.05],[30.5,2.05]];

// chromosomal inversions (breakpoints, Mbp)
const INV_NAMES = ['In(2L)t','In(2R)NS','In(3L)P','In(3R)C','In(3R)K','In(3R)Mo','In(3R)P'];
const INV_CHROM = ['2L','2R','3L','3R','3R','3R','3R'];
const INV_START = [2.1, 14.65, 2.9, 16.1, 11.4, 21.1, 19.85];
const INV_END   = [13.0, 19.95, 15.85, 24.3, 25.7, 28.85, 31.7];

// candidate genes
const GENE_NAMES  = ['sgg','tim','Samuel','Tor','sick','Treh','Egfr','mth','Eip63E','Clk','Ilp3','Eip74EF','Eip75B','timeout','foxo','Abd\u2212B','Ubx','cpo','fru','cry','ETHR','InR','Eip93F','twin'];
const GENE_CHROM  = ['X','2L','2L','2L','2L','2R','2R','3L','3L','3L','3L','3L','3L','3R','3R','3R','3R','3R','3R','3R','3R','3R','3R','3R'];
const GENE_POS    = [-0.5,2.9,10.6,12.9,19.6,20.7,21.3,0.3,3.3,7.9,9.6,16.9,17.6,12.9,14.0,16.7,17.1,18.1,18.5,19.4,21.1,21.3,21.7,24.2];
const GENE_SOURCE = ['Machado','Fabian','Fabian','Fabian','Fabian','Machado','Fabian','Machado','Fabian','Fabian','Fabian','Fabian','Fabian','Fabian','Fabian','Fabian','Fabian','Fabian','Fabian','Fabian','Fabian','Fabian','Fabian','Fabian'];
const GENE_TIER   = [5.6,0,1,2,3,0,1,0,1,2,3,4,5,0,1,2,3,4,5,6,7,8,9,10];

const PANEL_DATA = {PC1:[PC1_X,PC1_2L,PC1_2R,PC1_3L,PC1_3R], PC2:[PC2_X,PC2_2L,PC2_2R,PC2_3L,PC2_3R]};

// ---------------- LAYOUT / STYLE ----------------
const FONT = '"Liberation Sans", Arial, Helvetica, sans-serif';
const COL_LEFT = [132,388,645,901,1157];
const ROW_TOP = [55,310];
const PW = 248, PH = 249;
const YAXIS_W = 60, XAXIS_H = 250, EXT = 9;
const XMIN = -1.85, XMAX = 33.45, YMIN = 1.0, YMAX = 8.1;
const POINT_COLOR = 'rgba(196,22,48,0.33)';
const BLUE = '#3874b8';
const INV_STYLE = {
  'In(2L)t':  {dash:[], color:'#1a1a1a', width:1.6},
  'In(2R)NS': {dash:[3,2.5], color:'#1a1a1a', width:1.6},
  'In(3L)P':  {dash:[7,4], color:'#1a1a1a', width:1.6},
  'In(3R)C':  {dash:[13,6], color:'#555', width:1.8},
  'In(3R)K':  {dash:[1.5,3.5], color:'#333', width:1.7},
  'In(3R)Mo': {dash:[6,3,1.5,3], color:'#333', width:1.6},
  'In(3R)P':  {dash:[8,4], color:'#333', width:1.6}
};
const TITLE_SPAN = [580, 900];

function el(tag, css, html){const e=document.createElement(tag);e.style.cssText=css;if(html!==undefined)e.innerHTML=html;document.body.appendChild(e);return e;}

const decor = {
  id:'decor',
  beforeDatasetsDraw(chart, args, o){
    const {ctx, chartArea:a, scales:{x,y}} = chart;
    ctx.save();
    ctx.beginPath(); ctx.rect(a.left,a.top,a.width,a.height); ctx.clip();
    o.invs.forEach(i=>{
      const x0=x.getPixelForValue(INV_START[i]), x1=x.getPixelForValue(INV_END[i]);
      ctx.fillStyle='rgba(178,178,178,0.33)';
      ctx.fillRect(x0,a.top,x1-x0,a.height);
    });
    ctx.restore();
    ctx.save();
    const py = Math.round(y.getPixelForValue(THRESHOLD))+0.5;
    ctx.strokeStyle='#858585'; ctx.lineWidth=1.7; ctx.setLineDash([7,3,2,3]);
    ctx.beginPath(); ctx.moveTo(a.left,py); ctx.lineTo(a.right+o.ext,py); ctx.stroke();
    ctx.restore();
  },
  afterDatasetsDraw(chart, args, o){
    const {ctx, chartArea:a, scales:{x}} = chart;
    ctx.save();
    o.invs.forEach(i=>{
      const st = INV_STYLE[INV_NAMES[i]];
      ctx.strokeStyle=st.color; ctx.lineWidth=st.width; ctx.setLineDash(st.dash);
      [INV_START[i],INV_END[i]].forEach(v=>{
        const px=Math.round(x.getPixelForValue(v))+0.5;
        ctx.beginPath(); ctx.moveTo(px,a.top); ctx.lineTo(px,a.bottom); ctx.stroke();
      });
    });
    ctx.restore();
  },
  afterDraw(chart, args, o){
    const {ctx, chartArea:a, scales:{x}} = chart;
    ctx.save();
    ctx.strokeStyle='#1a1a1a'; ctx.lineWidth=2; ctx.setLineDash([]);
    ctx.strokeRect(a.left+1,a.top+1,a.width-2,a.height-2);
    ctx.restore();
    if(!o.genes.length) return;
    ctx.save();
    o.genes.forEach(g=>{
      const px = Math.round(x.getPixelForValue(GENE_POS[g]))+0.5;
      const pageX = o.left + px;
      const ly = 794 - GENE_TIER[g]*17.8 - o.top;
      const topY = ((pageX>TITLE_SPAN[0] && pageX<TITLE_SPAN[1]) ? 627 : 598) - o.top;
      ctx.strokeStyle='#111'; ctx.lineWidth=2; ctx.setLineDash([2,2]);
      ctx.beginPath(); ctx.moveTo(px,topY); ctx.lineTo(px,ly+7); ctx.stroke();
      ctx.fillStyle = GENE_SOURCE[g]==='Machado' ? BLUE : '#111';
      ctx.font = 'bold 16.5px '+FONT; ctx.textBaseline='middle'; ctx.textAlign='left';
      ctx.fillText(GENE_NAMES[g], px + (GENE_TIER[g]%1 ? 10 : 5), ly);
    });
    ctx.restore();
  }
};

ROWS.forEach((rowName, r)=>{
  CHROMS.forEach((chrom, c)=>{
    const L = c===0 ? YAXIS_W : 0;
    const B = r===1 ? XAXIS_H : 0;
    const R = c<4 ? EXT : 0;
    const cv = document.createElement('canvas');
    cv.width = L + PW + R; cv.height = PH + B;
    const left = COL_LEFT[c]-L, top = ROW_TOP[r];
    cv.style.left = left+'px'; cv.style.top = top+'px';
    document.body.appendChild(cv);
    const invs = INV_CHROM.map((ch,i)=>ch===chrom?i:-1).filter(i=>i>=0);
    const genes = r===1 ? GENE_CHROM.map((ch,i)=>ch===chrom?i:-1).filter(i=>i>=0) : [];
    const xScale = {type:'linear', min:XMIN, max:XMAX, display:r===1,
      afterBuildTicks:s=>{s.ticks=X_TICKS.map(v=>({value:v}));},
      grid:{drawOnChartArea:false, drawTicks:true, tickLength:6, color:'#222', lineWidth:1.5},
      border:{display:false},
      ticks:{font:{size:20,family:FONT}, color:'#222', padding:1, maxRotation:0, autoSkip:false}};
    if(r===1) xScale.afterFit = s=>{s.height=XAXIS_H; s.paddingLeft=0; s.paddingRight=0;};
    const yScale = {type:'linear', min:YMIN, max:YMAX, display:c===0,
      afterBuildTicks:s=>{s.ticks=Y_TICKS.map(v=>({value:v}));},
      grid:{drawOnChartArea:false, drawTicks:true, tickLength:5, color:'#222', lineWidth:1.5},
      border:{display:false},
      ticks:{font:(ctx)=>({size:(ctx.tick && ctx.tick.value===INF)?28:20, family:FONT}), color:'#222', padding:2, autoSkip:false,
        callback:(v)=>{const k=Y_TICKS.indexOf(v);return k>=0?Y_TICK_LABELS[k]:'';}}};
    if(c===0) yScale.afterFit = s=>{s.width=YAXIS_W; s.paddingTop=0; s.paddingBottom=0;};
    new Chart(cv, {
      type:'scatter',
      data:{datasets:[{data:PANEL_DATA[rowName][c].map(p=>({x:p[0],y:p[1]})), backgroundColor:POINT_COLOR, borderWidth:0, pointRadius:4.6, pointHoverRadius:4.6}]},
      options:{responsive:false, animation:false, events:[], devicePixelRatio:1,
        layout:{autoPadding:false, padding:{left:0,right:R,top:0,bottom:0}},
        plugins:{legend:{display:false}, tooltip:{enabled:false}, decor:{invs, genes, ext:R, left, top}},
        scales:{x:xScale, y:yScale}},
      plugins:[decor]
    });
  });
});

// column strips
CHROMS.forEach((ch,c)=>{ el('div', `left:${COL_LEFT[c]}px;top:12px;width:${PW}px;height:44px;`, ch).className='strip'; });
// row strips
ROWS.forEach((rw,r)=>{
  el('div', `position:absolute;box-sizing:border-box;border:2px solid #1a1a1a;left:10px;top:${ROW_TOP[r]}px;width:47px;height:246px;background:#fff`);
  el('div', `left:34px;top:${ROW_TOP[r]+104}px;font-weight:bold;font-size:31px;`, rw).className='rot';
  el('div', `left:89px;top:${ROW_TOP[r]+PH/2}px;font-size:25px;`, '\u2212log<sub style="font-size:16px;vertical-align:-4px;line-height:0">10</sub>(<i>q</i>\u2212value)').className='rot';
});
// x axis title
el('div', `left:740px;top:607px;transform:translate(-50%,-50%);font-weight:bold;font-size:27px;`, 'Genomic Position (Mbp)').className='txt';
// sources
el('div', `left:18px;top:749px;font-weight:bold;font-size:22px;letter-spacing:2.2px;color:${BLUE}`, 'Machado et al., 2016').className='txt';
el('div', `left:18px;top:784px;font-weight:bold;font-size:24px;letter-spacing:1.2px;color:#111`, 'Fabian et al., 2012').className='txt';

// legend
(function(){
  const cv=document.createElement('canvas'); cv.width=123; cv.height=214;
  cv.style.left='1420px'; cv.style.top='216px'; document.body.appendChild(cv);
  const ctx=cv.getContext('2d');
  INV_NAMES.forEach((n,i)=>{
    const t = 3 + i*29.7;
    ctx.fillStyle='#efefef'; ctx.fillRect(7,t,27,28.7);
    const st=INV_STYLE[n];
    ctx.strokeStyle='#111'; ctx.lineWidth=2; ctx.setLineDash(st.dash);
    ctx.beginPath(); ctx.moveTo(20,t); ctx.lineTo(20,t+28.7); ctx.stroke();
    ctx.setLineDash([]);
    ctx.fillStyle='#111'; ctx.font='italic bold 15px '+FONT; ctx.textBaseline='middle';
    ctx.fillText(n, 45, t+14.5);
  });
})();
</script>
</body></html>
